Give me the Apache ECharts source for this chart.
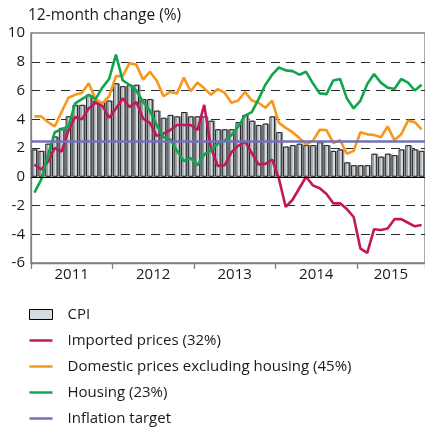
<!DOCTYPE html>
<html>
<head>
<meta charset="utf-8">
<script src="https://cdn.jsdelivr.net/npm/echarts@6/dist/echarts.min.js"></script>
<style>
  html, body { margin: 0; padding: 0; background: #fff; }
  #chart { width: 425px; height: 429px; }
</style>
</head>
<body>
<div id="chart"></div>
<script>
// monthly data, Jan 2011 - Oct 2015
const years = ["2011", "2012", "2013", "2014", "2015"];
const monthsPerYear = [12, 12, 12, 12, 10];
const categories = [];
years.forEach((y, k) => {
  for (let m = 1; m <= monthsPerYear[k]; m++) categories.push(y + "-" + String(m).padStart(2, "0"));
});

// year labels sit under the middle of each year's months
const yearLabelIndex = [6, 18, 30, 42, 53];

const cpi = [
  1.9, 1.8, 2.3, 2.8, 3.4, 4.2, 5.0, 5.0, 5.7, 5.3, 5.2, 5.3,
  6.5, 6.3, 6.4, 6.4, 5.4, 5.4, 4.6, 4.1, 4.3, 4.2, 4.5, 4.2,
  4.2, 4.2, 3.9, 3.3, 3.3, 3.3, 3.8, 4.3, 3.9, 3.6, 3.7, 4.2,
  3.1, 2.1, 2.2, 2.3, 2.2, 2.2, 2.4, 2.2, 1.8, 1.9, 1.0, 0.8,
  0.8, 0.8, 1.6, 1.4, 1.6, 1.5, 1.9, 2.2, 1.9, 1.8
];
const imported = [
  0.85, 0.5, 1.05, 2.0, 1.75, 3.2, 4.15, 4.0, 4.75, 5.15, 4.95, 4.1,
  4.75, 5.45, 4.85, 5.2, 4.05, 3.75, 2.85, 3.0, 3.25, 3.6, 3.6, 3.6,
  3.25, 5.0, 2.0, 0.75, 0.8, 1.7, 2.15, 2.45, 1.65, 0.85, 0.9, 1.2,
  -0.15, -2.1, -1.6, -0.8, 0.0, -0.6, -0.8, -1.2, -1.85, -1.85, -2.25, -2.8,
  -5.0, -5.3, -3.65, -3.7, -3.6, -2.95, -2.95, -3.2, -3.45, -3.35
];
const domestic = [
  4.2, 4.2, 3.8, 3.5, 4.5, 5.5, 5.7, 5.85, 6.5, 5.4, 5.1, 5.6,
  7.0, 7.0, 7.9, 7.8, 6.75, 7.3, 6.7, 5.6, 5.9, 5.8, 6.9, 5.95,
  6.55, 6.15, 5.7, 6.1, 5.85, 5.15, 5.3, 5.9, 5.3, 5.15, 4.8, 5.3,
  3.75, 3.4, 3.1, 2.7, 2.25, 2.5, 3.27, 3.25, 2.35, 2.55, 1.6, 1.8,
  3.1, 2.95, 2.9, 2.75, 3.5, 2.55, 2.95, 3.9, 3.8, 3.3
];
const housing = [
  -1.1, -0.2, 1.5, 3.1, 3.3, 3.5, 5.1, 5.4, 5.7, 5.4, 6.2, 6.8,
  8.5, 6.7, 6.4, 6.0, 5.2, 4.6, 3.6, 2.75, 2.6, 1.8, 1.1, 1.3,
  0.8, 1.55, 1.85, 2.3, 2.5, 2.9, 3.5, 4.25, 4.5, 5.4, 6.4, 7.1,
  7.6, 7.4, 7.35, 7.1, 7.3, 6.5, 5.8, 5.75, 6.7, 6.8, 5.45, 4.75,
  5.3, 6.45, 7.15, 6.55, 6.2, 6.1, 6.8, 6.55, 6.0, 6.4
];
const target = 2.5;

const FONT = '"Open Sans", sans-serif';
const TEXT = "#1a1a1a";
const AXIS = "#808080";
const LINE_ICON = "path://M0,0h24v2.6h-24z";

const chart = echarts.init(document.getElementById("chart"));

const lineSeries = (name, data, color) => ({
  name: name,
  type: "line",
  data: data,
  symbol: "none",
  z: 4,
  lineStyle: { color: color, width: 2.6 },
  itemStyle: { color: color }
});

chart.setOption({
  animation: false,
  textStyle: { fontFamily: FONT },
  title: {
    text: "12-month change (%)",
    left: 28,
    top: 8,
    padding: 0,
    textStyle: { fontSize: 15.5, fontWeight: "normal", color: TEXT, fontFamily: FONT }
  },
  grid: {
    left: 31,
    right: -3,
    top: 33,
    bottom: 166,
    show: true,
    borderColor: AXIS,
    borderWidth: 1.3
  },
  legend: {
    orient: "vertical",
    left: 29,
    top: 307,
    padding: 0,
    itemWidth: 23,
    itemHeight: 10,
    itemGap: 11,
    selectedMode: false,
    textStyle: { fontSize: 15, color: TEXT, fontFamily: FONT, padding: [0, 0, 0, 10] },
    data: [
      { name: "CPI", icon: "rect", itemStyle: { color: "#d3dbe3", borderColor: "#000", borderWidth: 1, shadowColor: "rgba(0,0,0,0)" } },
      { name: "Imported prices (32%)", icon: LINE_ICON },
      { name: "Domestic prices excluding housing (45%)", icon: LINE_ICON },
      { name: "Housing (23%)", icon: LINE_ICON },
      { name: "Inflation target", icon: LINE_ICON }
    ]
  },
  xAxis: {
    type: "category",
    data: categories,
    boundaryGap: true,
    axisLine: { onZero: false, lineStyle: { color: AXIS, width: 1.3 } },
    axisTick: { show: true, interval: 11, length: 6, lineStyle: { color: AXIS, width: 1.3 } },
    axisLabel: {
      interval: (i) => yearLabelIndex.includes(i),
      formatter: (v) => v.slice(0, 4),
      fontSize: 15,
      color: TEXT,
      fontFamily: FONT,
      margin: 4,
      padding: [0, 7, 0, 0]
    },
    splitLine: { show: false }
  },
  yAxis: {
    type: "value",
    min: -6,
    max: 10,
    interval: 2,
    axisLine: { show: true, lineStyle: { color: AXIS, width: 1.3 } },
    axisTick: { show: false },
    axisLabel: { fontSize: 15, color: TEXT, fontFamily: FONT, margin: 6 },
    splitLine: {
      show: true,
      showMinLine: false,
      showMaxLine: false,
      lineStyle: { color: "#2a2a2a", width: 1, type: [9, 6] }
    }
  },
  series: [
    {
      name: "CPI",
      type: "bar",
      data: cpi,
      barWidth: 5.4,
      z: 2,
      itemStyle: {
        color: "#d5dde5",
        borderColor: "#111",
        borderWidth: 0.9,
        shadowColor: "#8c8c8c",
        shadowOffsetX: 1.5,
        shadowBlur: 0
      },
      markLine: {
        silent: true,
        symbol: "none",
        label: { show: false },
        lineStyle: { color: "#000", width: 1, type: "solid" },
        data: [{ yAxis: 0 }]
      }
    },
    lineSeries("Imported prices (32%)", imported, "#c2185b"),
    lineSeries("Domestic prices excluding housing (45%)", domestic, "#f7971e"),
    lineSeries("Housing (23%)", housing, "#10a64e"),
    {
      name: "Inflation target",
      type: "line",
      data: [],
      symbol: "none",
      z: 3,
      itemStyle: { color: "#7570b8" },
      lineStyle: { color: "#7570b8", width: 2.6 },
      markLine: {
        silent: true,
        symbol: "none",
        label: { show: false },
        lineStyle: { color: "#7570b8", width: 2.6, type: "solid" },
        data: [{ yAxis: target }]
      }
    }
  ]
});
</script>
</body>
</html>
